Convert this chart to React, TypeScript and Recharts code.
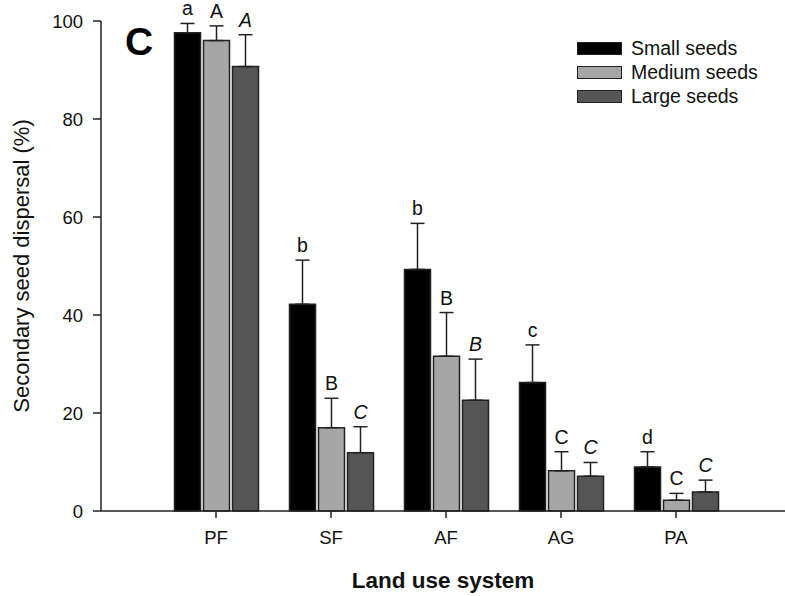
import { BarChart, Bar, XAxis, YAxis, ErrorBar, LabelList } from 'recharts';

const landUse = ['PF', 'SF', 'AF', 'AG', 'PA'];

const smallSeeds = [97.6, 42.2, 49.3, 26.2, 9.0];
const mediumSeeds = [96.0, 17.0, 31.6, 8.2, 2.2];
const largeSeeds = [90.7, 11.9, 22.6, 7.1, 3.9];

const smallErr = [1.9, 9.0, 9.4, 7.7, 3.1];
const mediumErr = [3.0, 6.0, 8.9, 3.9, 1.4];
const largeErr = [6.5, 5.3, 8.4, 2.8, 2.4];

const smallLetters = ['a', 'b', 'b', 'c', 'd'];
const mediumLetters = ['A', 'B', 'B', 'C', 'C'];
const largeLetters = ['A', 'C', 'B', 'C', 'C'];

const yTicks = [0, 20, 40, 60, 80, 100];

const FONT = '"Liberation Sans", Arial, Helvetica, sans-serif';
const INK = '#222';

const series = [
  { key: 'small', name: 'Small seeds', fill: '#000000', values: smallSeeds, errs: smallErr, italic: false },
  { key: 'medium', name: 'Medium seeds', fill: '#a6a6a6', values: mediumSeeds, errs: mediumErr, italic: false },
  { key: 'large', name: 'Large seeds', fill: '#555555', values: largeSeeds, errs: largeErr, italic: true },
];

const data = landUse.map((cat, i) => ({
  cat,
  small: smallSeeds[i],
  medium: mediumSeeds[i],
  large: largeSeeds[i],
  smallErr: [0, smallErr[i]],
  mediumErr: [0, mediumErr[i]],
  largeErr: [0, largeErr[i]],
  smallLetter: smallLetters[i],
  mediumLetter: mediumLetters[i],
  largeLetter: largeLetters[i],
}));

// letter sits above the error bar cap; pixel/unit ratio taken from the bar itself
function letterLabel(values: number[], errs: number[], italic: boolean) {
  return (props: any) => {
    const { x, y, width, height, value, index } = props;
    const v = values[index];
    const perUnit = v ? height / v : 0;
    const top = y - errs[index] * perUnit;
    return (
      <text
        x={x + width / 2}
        y={top - 8}
        textAnchor="middle"
        fontSize={19.5}
        fontFamily={FONT}
        fontStyle={italic ? 'italic' : 'normal'}
        fill="#111"
      >
        {value}
      </text>
    );
  };
}

export default function App() {
  return (
    <div style={{ position: 'absolute', left: 0, top: 0, width: 785, height: 596, background: '#fff' }}>
      <BarChart
        width={785}
        height={596}
        data={data}
        margin={{ top: 21, right: 0, bottom: 0, left: 0 }}
        barSize={26}
        barGap={3}
        style={{ overflow: 'visible' }}
      >
        <XAxis
          dataKey="cat"
          height={85}
          padding={{ left: 57.5, right: 51.5 }}
          tickSize={7}
          tickMargin={13}
          axisLine={{ stroke: INK, strokeWidth: 1.5 }}
          tickLine={{ stroke: INK, strokeWidth: 1.5 }}
          tick={{ fontSize: 18.5, fill: '#111', fontFamily: FONT }}
          label={{
            value: 'Land use system',
            position: 'insideBottom',
            offset: 8,
            style: { fontSize: 22.5, fontWeight: 'bold', fill: '#111', fontFamily: FONT },
          }}
        />
        <YAxis
          width={101}
          domain={[0, 100]}
          ticks={yTicks}
          tickSize={8}
          tickMargin={10}
          axisLine={{ stroke: INK, strokeWidth: 1.5 }}
          tickLine={{ stroke: INK, strokeWidth: 1.5 }}
          tick={{ fontSize: 18.5, fill: '#111', fontFamily: FONT }}
          label={{
            value: 'Secondary seed dispersal (%)',
            angle: -90,
            position: 'insideLeft',
            offset: 21,
            style: { textAnchor: 'middle', fontSize: 22, fill: '#111', fontFamily: FONT },
          }}
        />
        {series.map((s) => (
          <Bar
            key={s.key}
            dataKey={s.key}
            name={s.name}
            fill={s.fill}
            stroke={INK}
            strokeWidth={1.5}
            isAnimationActive={false}
          >
            <ErrorBar dataKey={`${s.key}Err`} width={7} stroke={INK} strokeWidth={1.5} direction="y" />
            <LabelList dataKey={`${s.key}Letter`} content={letterLabel(s.values, s.errs, s.italic)} />
          </Bar>
        ))}
      </BarChart>
      <div
        style={{
          position: 'absolute',
          left: 577,
          top: 36,
          fontFamily: FONT,
          fontSize: 19.5,
          color: '#111',
        }}
      >
        {series.map((s) => (
          <div key={s.key} style={{ display: 'flex', alignItems: 'center', height: 24.3 }}>
            <div
              style={{
                width: 43,
                height: 11,
                background: s.fill,
                border: `1.5px solid ${INK}`,
                marginRight: 9,
              }}
            />
            <span>{s.name}</span>
          </div>
        ))}
      </div>
      <div
        style={{
          position: 'absolute',
          left: 125,
          top: 22,
          fontFamily: FONT,
          fontSize: 39,
          fontWeight: 'bold',
          lineHeight: 1,
          color: '#000',
        }}
      >
        C
      </div>
    </div>
  );
}
